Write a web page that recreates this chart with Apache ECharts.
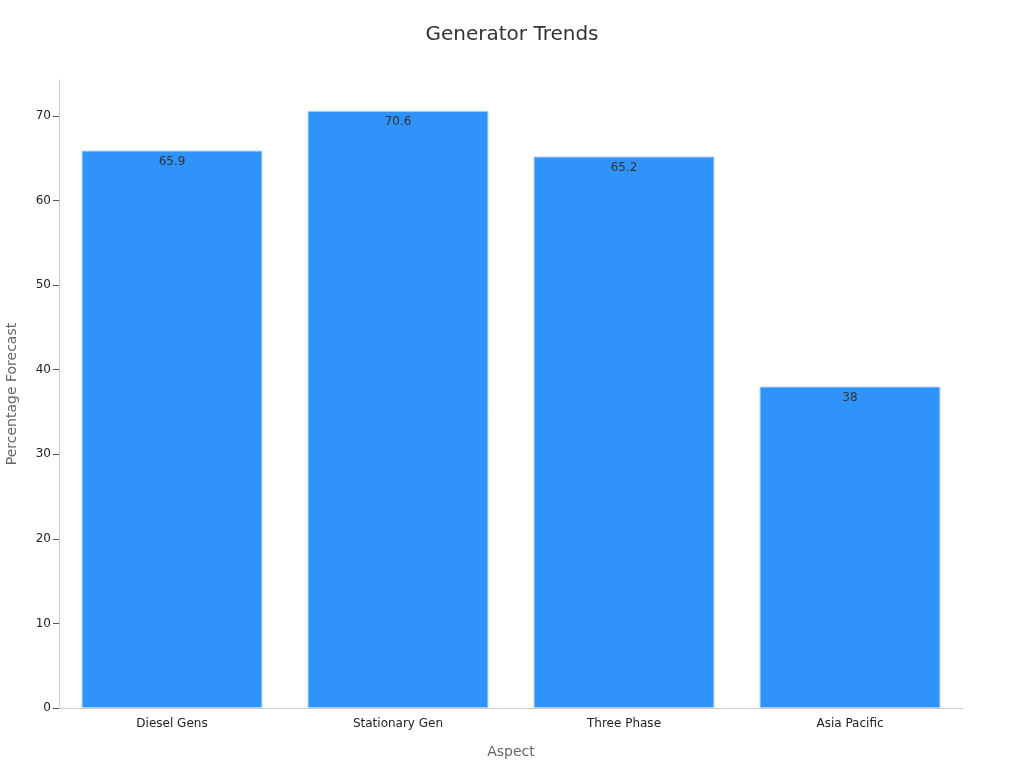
<!DOCTYPE html>
<html><head><meta charset="utf-8">
<script src="https://cdn.jsdelivr.net/npm/echarts@6/dist/echarts.min.js"></script>
<style>html,body{margin:0;padding:0;background:#fff}#c{width:1024px;height:768px}</style>
</head><body><div id="c"></div>
<script>
const categories = ["Diesel Gens", "Stationary Gen", "Three Phase", "Asia Pacific"];
const values = [65.9, 70.6, 65.2, 38];
const chart = echarts.init(document.getElementById('c'));
chart.setOption({
  animation: false,
  textStyle: { fontFamily: 'DejaVu Sans, sans-serif' },
  title: { text: 'Generator Trends', left: 'center', top: 20, textStyle: { fontSize: 20, fontWeight: 'normal', color: '#333' } },
  grid: { left: 59, right: 61, top: 80, bottom: 60, containLabel: false, outerBoundsMode: 'none' },
  xAxis: {
    type: 'category', data: categories, name: 'Aspect', nameLocation: 'middle', nameGap: 37,
    nameTextStyle: { fontSize: 14, color: '#666' },
    axisLine: { lineStyle: { color: '#ccc' } },
    axisTick: { alignWithLabel: true, lineStyle: { color: '#999' } },
    axisLabel: { color: '#222', fontSize: 12, margin: 10 }
  },
  yAxis: {
    type: 'value', min: 0, max: 74.25, interval: 10, name: 'Percentage Forecast', nameLocation: 'middle', nameGap: 40,
    nameTextStyle: { fontSize: 14, color: '#666' },
    axisLine: { show: true, lineStyle: { color: '#ccc' } },
    axisTick: { show: true, length: 6, lineStyle: { color: '#555' } },
    axisLabel: { color: '#222', fontSize: 12, showMaxLabel: false },
    splitLine: { show: false }
  },
  series: [{
    type: 'bar', data: values, barCategoryGap: '20%',
    itemStyle: { color: '#2f93fa', borderColor: '#a9cdf5', borderWidth: 1 },
    label: { show: true, position: 'insideTop', color: '#333', fontSize: 12 }
  }]
});
</script></body></html>
